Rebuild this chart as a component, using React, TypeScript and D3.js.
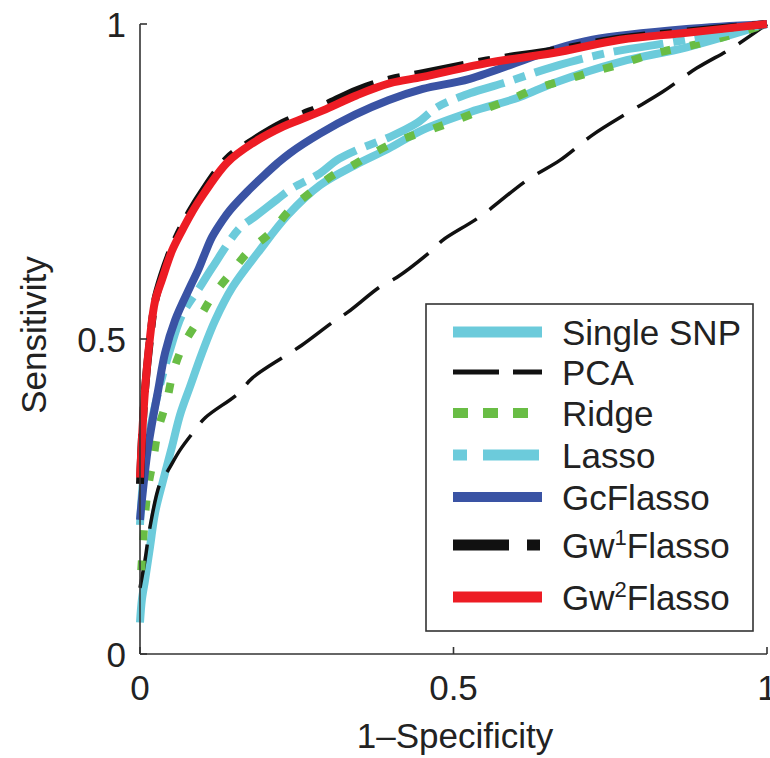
import React from "react";
import * as d3 from "d3";

type Pt = [number, number];

// ---- Data ----
const seriesNames = ["Single SNP", "PCA", "Ridge", "Lasso", "GcFlasso", "Gw1Flasso", "Gw2Flasso"];

const singleSnp: Pt[] = [
  [0, 0.05], [0.003, 0.086], [0.008, 0.117], [0.016, 0.17], [0.024, 0.224], [0.037, 0.276],
  [0.051, 0.329], [0.064, 0.38], [0.08, 0.425], [0.099, 0.478], [0.12, 0.53], [0.148, 0.583],
  [0.188, 0.637], [0.236, 0.697], [0.287, 0.744], [0.343, 0.776], [0.396, 0.802], [0.451, 0.832],
  [0.526, 0.86], [0.606, 0.884], [0.659, 0.906], [0.766, 0.94], [0.872, 0.963], [1, 1],
];

const pca: Pt[] = [
  [0, 0.105], [0.008, 0.149], [0.016, 0.202], [0.032, 0.271], [0.045, 0.292], [0.064, 0.324],
  [0.085, 0.352], [0.104, 0.375], [0.156, 0.413], [0.179, 0.438], [0.228, 0.471], [0.258, 0.49],
  [0.308, 0.527], [0.332, 0.543], [0.383, 0.583], [0.41, 0.598], [0.466, 0.641], [0.483, 0.657],
  [0.542, 0.694], [0.617, 0.752], [0.67, 0.784], [0.722, 0.824], [0.778, 0.859], [0.833, 0.892],
  [0.888, 0.93], [0.946, 0.963], [1, 1],
];

const ridge: Pt[] = [
  [0.002, 0.133], [0.008, 0.22], [0.013, 0.265], [0.021, 0.308], [0.029, 0.356], [0.043, 0.403],
  [0.053, 0.448], [0.069, 0.49], [0.093, 0.53], [0.115, 0.567], [0.145, 0.605], [0.174, 0.64],
  [0.207, 0.668], [0.239, 0.705], [0.271, 0.732], [0.308, 0.76], [0.34, 0.776], [0.372, 0.795],
  [0.415, 0.816], [0.463, 0.832], [0.506, 0.848], [0.547, 0.864], [0.59, 0.88], [0.633, 0.898],
  [0.675, 0.91], [0.718, 0.923], [0.766, 0.936], [0.809, 0.95], [0.85, 0.96], [0.898, 0.97], [1, 1],
];

const lasso: Pt[] = [
  [0, 0.205], [0.005, 0.276], [0.016, 0.356], [0.032, 0.427], [0.048, 0.483], [0.067, 0.538],
  [0.096, 0.583], [0.115, 0.613], [0.159, 0.676], [0.183, 0.694], [0.218, 0.721], [0.239, 0.737],
  [0.287, 0.763], [0.314, 0.784], [0.346, 0.8], [0.399, 0.821], [0.442, 0.843], [0.474, 0.868],
  [0.526, 0.89], [0.579, 0.906], [0.659, 0.932], [0.745, 0.954], [0.872, 0.975], [1, 1],
];

const gcFlasso: Pt[] = [
  [0, 0.213], [0.003, 0.244], [0.013, 0.329], [0.029, 0.419], [0.04, 0.478], [0.056, 0.53],
  [0.08, 0.583], [0.093, 0.61], [0.104, 0.637], [0.115, 0.662], [0.132, 0.689], [0.144, 0.705],
  [0.171, 0.734], [0.196, 0.758], [0.218, 0.778], [0.239, 0.795], [0.287, 0.826], [0.343, 0.856],
  [0.396, 0.879], [0.451, 0.897], [0.526, 0.913], [0.659, 0.959], [0.722, 0.975], [0.872, 0.992], [1, 1],
];

const gw1Flasso: Pt[] = [
  [0, 0.27], [0.003, 0.34], [0.008, 0.42], [0.016, 0.5], [0.024, 0.56], [0.035, 0.6],
  [0.051, 0.644], [0.067, 0.678], [0.08, 0.702], [0.096, 0.728], [0.139, 0.786], [0.18, 0.815],
  [0.228, 0.843], [0.255, 0.855], [0.292, 0.87], [0.346, 0.895], [0.399, 0.912], [0.451, 0.922],
  [0.553, 0.942], [0.659, 0.958], [0.766, 0.977], [0.872, 0.988], [1, 1],
];

const gw2Flasso: Pt[] = [
  [0, 0.28], [0.003, 0.34], [0.008, 0.419], [0.016, 0.503], [0.024, 0.56], [0.035, 0.594],
  [0.051, 0.64], [0.067, 0.672], [0.08, 0.696], [0.096, 0.722], [0.139, 0.78], [0.18, 0.811],
  [0.228, 0.837], [0.255, 0.848], [0.292, 0.863], [0.346, 0.887], [0.399, 0.906], [0.451, 0.916],
  [0.553, 0.938], [0.659, 0.954], [0.766, 0.975], [0.872, 0.986], [1, 1],
];

const xTicks = [0, 0.5, 1];
const yTicks = [0, 0.5, 1];
const xTickLabels = ["0", "0.5", "1"];
const yTickLabels = ["0", "0.5", "1"];
const xLabel = "1\u2013Specificity";
const yLabel = "Sensitivity";

// ---- Styles ----
const styles = [
  { color: "#6ccbdb", width: 8, dash: "", legendDash: "", legendWidth: 11 },
  { color: "#111111", width: 3.5, dash: "44,16", legendDash: "46,14", legendWidth: 5 },
  { color: "#69bd45", width: 8, dash: "10,20", legendDash: "15,15", legendWidth: 10 },
  { color: "#6ccbdb", width: 8, dash: "50,10,12,10", legendDash: "14,16,56,20", legendWidth: 11 },
  { color: "#3a53a4", width: 8, dash: "", legendDash: "", legendWidth: 10 },
  { color: "#111111", width: 8, dash: "50,15,12,15", legendDash: "56,18,13,10", legendWidth: 11 },
  { color: "#ed1c24", width: 8, dash: "", legendDash: "", legendWidth: 11 },
];

const allSeries = [singleSnp, pca, ridge, lasso, gcFlasso, gw1Flasso, gw2Flasso];

const W = 770;
const H = 758;
const left = 140;
const right = 767;
const top = 24;
const bottom = 654;
const FONT = "'Liberation Sans', Arial, Helvetica, sans-serif";
const TEXT = "#222";

function LegendLabel({ name }: { name: string }) {
  const m = name.match(/^Gw(\d)(Flasso)$/);
  if (m) {
    return (
      <>
        Gw
        <tspan dy={-13} fontSize={22}>{m[1]}</tspan>
        <tspan dy={13}>{m[2]}</tspan>
      </>
    );
  }
  return <>{name}</>;
}

export default function App() {
  const x = d3.scaleLinear().domain([0, 1]).range([left, right]);
  const y = d3.scaleLinear().domain([0, 1]).range([bottom, top]);
  const line = d3
    .line<Pt>()
    .x((d) => x(d[0]))
    .y((d) => y(d[1]))
    .curve(d3.curveCatmullRom.alpha(0.5));

  const legendX = 426;
  const legendY = 304;
  const legendW = 327;
  const legendH = 327;
  const rowY = [332, 372, 413, 455, 497, 545, 597];

  return (
    <svg
      width={W}
      height={H}
      style={{ position: "absolute", left: 0, top: 0, background: "#fff" }}
      fontFamily={FONT}
    >
      <rect x={0} y={0} width={W} height={H} fill="#fff" />
      {/* curves */}
      {allSeries.map((s, i) => (
        <path
          key={seriesNames[i]}
          d={line(s) || ""}
          fill="none"
          stroke={styles[i].color}
          strokeWidth={styles[i].width}
          strokeDasharray={styles[i].dash || undefined}
          strokeLinejoin="round"
          strokeLinecap="butt"
        />
      ))}

      {/* axes */}
      <line x1={left} y1={top} x2={left} y2={bottom} stroke="#333" strokeWidth={1.6} />
      <line x1={left} y1={bottom} x2={right} y2={bottom} stroke="#333" strokeWidth={1.6} />
      {yTicks.map((t, i) => (
        <g key={"yt" + i}>
          <line x1={left} x2={left + 7} y1={y(t)} y2={y(t)} stroke="#333" strokeWidth={1.6} />
          <text
            x={left - 14}
            y={y(t)}
            dy="0.36em"
            textAnchor="end"
            fontSize={35}
            fill={TEXT}
          >
            {yTickLabels[i]}
          </text>
        </g>
      ))}
      {xTicks.map((t, i) => (
        <g key={"xt" + i}>
          <line x1={x(t)} x2={x(t)} y1={bottom} y2={bottom - 7} stroke="#333" strokeWidth={1.6} />
          <text x={x(t)} y={700} textAnchor="middle" fontSize={35} fill={TEXT}>
            {xTickLabels[i]}
          </text>
        </g>
      ))}
      <text x={455} y={748} textAnchor="middle" fontSize={35} fill={TEXT}>
        {xLabel}
      </text>
      <text
        transform={`translate(46,${335}) rotate(-90)`}
        textAnchor="middle"
        fontSize={35}
        fill={TEXT}
      >
        {yLabel}
      </text>

      {/* legend */}
      <rect
        x={legendX}
        y={legendY}
        width={legendW}
        height={legendH}
        fill="#fff"
        stroke="#333"
        strokeWidth={1.6}
      />
      {seriesNames.map((n, i) => (
        <g key={"lg" + n}>
          <line
            x1={453}
            x2={542}
            y1={rowY[i]}
            y2={rowY[i]}
            stroke={styles[i].color}
            strokeWidth={styles[i].legendWidth}
            strokeDasharray={styles[i].legendDash || undefined}
          />
          <text x={562} y={rowY[i] + 13} fontSize={35} fill={TEXT}>
            <LegendLabel name={n} />
          </text>
        </g>
      ))}
    </svg>
  );
}
